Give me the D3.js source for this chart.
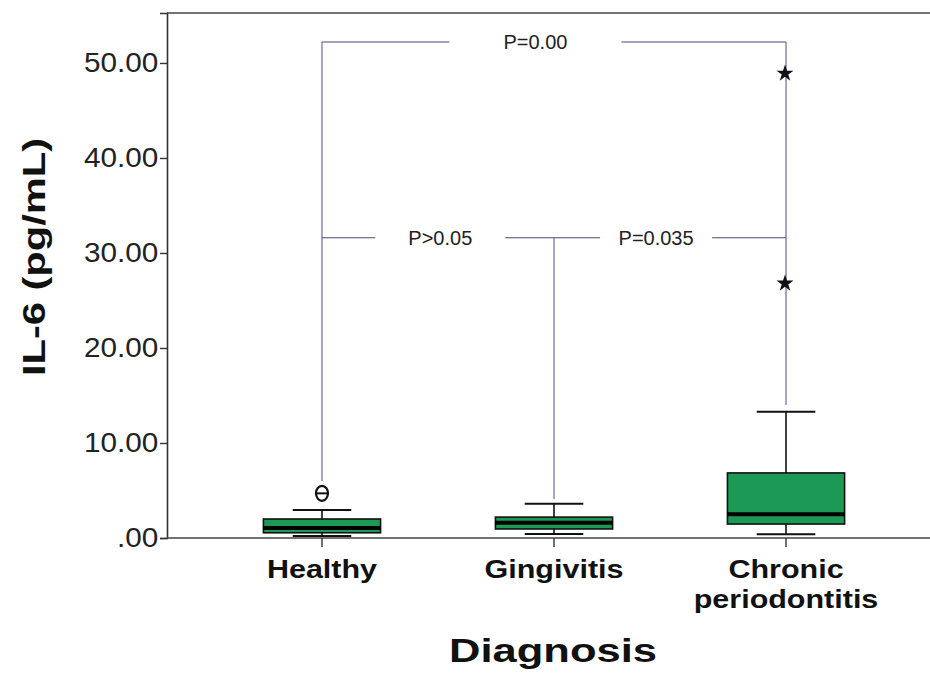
<!DOCTYPE html>
<html>
<head>
<meta charset="utf-8">
<script src="https://cdn.jsdelivr.net/npm/d3@7"></script>
<style>
body{margin:0;background:#fff;}
svg{display:block;font-family:"Liberation Sans",Arial,sans-serif;}
</style>
</head>
<body>
<svg id="chart" width="930" height="675"></svg>
<script>
// ---- data ----
var groups = ['Healthy', 'Gingivitis', 'Chronic periodontitis'];
var q1 = [0.55, 0.95, 1.47];
var medians = [1.05, 1.6, 2.5];
var q3 = [2.0, 2.2, 6.85];
var whiskLow = [0.2, 0.42, 0.4];
var whiskHigh = [2.95, 3.6, 13.3];
// outliers (o) and extremes (*)
var outliers = [{g:'Healthy', v:4.7}];
var extremes = [{g:'Chronic periodontitis', v:48.9}, {g:'Chronic periodontitis', v:26.8}];
var yTicks = [0, 10, 20, 30, 40, 50];
var brackets = [
	{from:'Healthy', to:'Chronic periodontitis', y:52.2, label:'P=0.00'},
	{from:'Healthy', to:'Gingivitis', y:31.6, label:'P>0.05'},
	{from:'Gingivitis', to:'Chronic periodontitis', y:31.6, label:'P=0.035'}
];
// where each group's bracket leg stops (value)
var legEnd = [6.0, 4.1, 14.0];

var svg = d3.select('#chart');
var plotLeft = 167, plotTop = 13, plotBottom = 538;

var x = d3.scaleBand()
.domain(groups)
.range([plotLeft, 941])
.paddingInner(0)
.paddingOuter(0.168);

var y = d3.scaleLinear()
.domain([0, 55.26])
.range([plotBottom, plotTop]);

var cx = function(g){ return x(g) + x.bandwidth()/2; };
var boxW = x.bandwidth()*0.505;

// frame
svg.append('line').attr('x1',plotLeft).attr('x2',935).attr('y1',plotTop).attr('y2',plotTop)
.attr('stroke','#444').attr('stroke-width',1.6);

// y axis
var yAxis = svg.append('g')
.attr('transform','translate('+plotLeft+',0)')
.call(d3.axisLeft(y).tickValues(yTicks).tickSize(7)
	.tickFormat(function(d){ return d==0 ? '.00' : d3.format('.2f')(d); }));
yAxis.select('.domain').attr('stroke','#333').attr('stroke-width',1.6);
yAxis.selectAll('.tick line').attr('stroke','#333').attr('stroke-width',1.4);
yAxis.selectAll('.tick text')
.attr('x',-8)
.attr('transform','scale(1.1,1)')
.attr('fill','#222')
.style('font-size','27px');

// x axis
var xAxis = svg.append('g')
.attr('transform','translate(0,'+plotBottom+')')
.call(d3.axisBottom(x).tickSize(9).tickFormat(''));
xAxis.select('.domain').remove();
xAxis.selectAll('.tick line').attr('stroke','#333').attr('stroke-width',1.4);
svg.append('line').attr('x1',plotLeft).attr('x2',935).attr('y1',plotBottom).attr('y2',plotBottom)
.attr('stroke','#444').attr('stroke-width',1.6);

xAxis.selectAll('.tick').each(function(d){
	var t = d3.select(this).append('text')
	.attr('text-anchor','middle')
	.attr('transform','scale(1.22,1)')
	.attr('fill','#111')
	.style('font-size','25px')
	.style('font-weight','bold');
	d.split(' ').forEach(function(w,i){
		t.append('tspan').attr('x',0).attr('y',40+i*30).text(w);
	});
});

// brackets
var bColor = '#5a5aa6';
var bg = svg.append('g');
var gapInfo = {'P=0.00':{c:0.46, h:86}, 'P>0.05':{c:0.51, h:65}, 'P=0.035':{c:0.44, h:56}};
brackets.forEach(function(b){
	var x1 = cx(b.from), x2 = cx(b.to), yy = y(b.y);
	var gi = gapInfo[b.label];
	var mid = x1 + (x2-x1)*gi.c;
	bg.append('line').attr('x1',x1).attr('x2',mid-gi.h).attr('y1',yy).attr('y2',yy)
	.attr('stroke','#4a4a70').attr('stroke-width',1.1);
	bg.append('line').attr('x1',mid+gi.h).attr('x2',x2).attr('y1',yy).attr('y2',yy)
	.attr('stroke','#4a4a70').attr('stroke-width',1.1);
	bg.append('text').attr('x',mid).attr('y',yy+7)
	.attr('text-anchor','middle')
	.attr('fill','#222')
	.style('font-size','20px')
	.text(b.label);
});
// legs: from the highest bracket touching each group down to legEnd
groups.forEach(function(g,i){
	var ys = brackets.filter(function(b){ return b.from==g || b.to==g; }).map(function(b){ return b.y; });
	bg.append('line').attr('x1',cx(g)).attr('x2',cx(g))
	.attr('y1',y(d3.max(ys))).attr('y2',y(legEnd[i]))
	.attr('stroke',bColor).attr('stroke-width',1.1);
});

// boxes
var boxes = svg.selectAll('.box')
.data(groups)
.enter()
.append('g')
.attr('class','box');

boxes.append('line')
.attr('x1',function(d){ return cx(d); })
.attr('x2',function(d){ return cx(d); })
.attr('y1',function(d,i){ return y(whiskHigh[i]); })
.attr('y2',function(d,i){ return y(whiskLow[i]); })
.attr('stroke','#111').attr('stroke-width',1.6);

boxes.selectAll('.cap')
.data(function(d,i){ return [{g:d, v:whiskHigh[i]}, {g:d, v:whiskLow[i]}]; })
.enter()
.append('line')
.attr('x1',function(d){ return cx(d.g)-boxW/4; })
.attr('x2',function(d){ return cx(d.g)+boxW/4; })
.attr('y1',function(d){ return y(d.v); })
.attr('y2',function(d){ return y(d.v); })
.attr('stroke','#111').attr('stroke-width',2);

boxes.append('rect')
.attr('x',function(d){ return cx(d)-boxW/2; })
.attr('width',boxW)
.attr('y',function(d,i){ return y(q3[i]); })
.attr('height',function(d,i){ return y(q1[i])-y(q3[i]); })
.attr('fill','#1c9a55')
.attr('stroke','#111')
.attr('stroke-width',1.6);

boxes.append('line')
.attr('x1',function(d){ return cx(d)-boxW/2; })
.attr('x2',function(d){ return cx(d)+boxW/2; })
.attr('y1',function(d,i){ return y(medians[i]); })
.attr('y2',function(d,i){ return y(medians[i]); })
.attr('stroke','#000').attr('stroke-width',4);

// outliers
svg.selectAll('.out')
.data(outliers)
.enter()
.append('g')
.attr('class','out')
.each(function(d){
	var g = d3.select(this);
	g.append('ellipse').attr('cx',cx(d.g)).attr('cy',y(d.v))
	.attr('rx',6).attr('ry',7.5)
	.attr('fill','#fff').attr('stroke','#111').attr('stroke-width',2.2);
	g.append('line').attr('x1',cx(d.g)-5).attr('x2',cx(d.g)+5)
	.attr('y1',y(d.v)).attr('y2',y(d.v))
	.attr('stroke','#111').attr('stroke-width',2);
});

// extremes
svg.selectAll('.ext')
.data(extremes)
.enter()
.append('path')
.attr('class','ext')
.attr('d',d3.symbol().type(d3.symbolStar).size(90))
.attr('transform',function(d){ return 'translate('+(cx(d.g)-1)+','+y(d.v)+')'; })
.attr('fill','#111');

// axis titles
svg.append('text')
.attr('transform','translate(45,257) rotate(-90) scale(1.3,1)')
.attr('text-anchor','middle')
.attr('fill','#111')
.style('font-size','32px')
.style('font-weight','bold')
.text('IL-6 (pg/mL)');

svg.append('text')
.attr('transform','translate(553,662) scale(1.28,1)')
.attr('text-anchor','middle')
.attr('fill','#111')
.style('font-size','34px')
.style('font-weight','bold')
.text('Diagnosis');
</script>
</body>
</html>
